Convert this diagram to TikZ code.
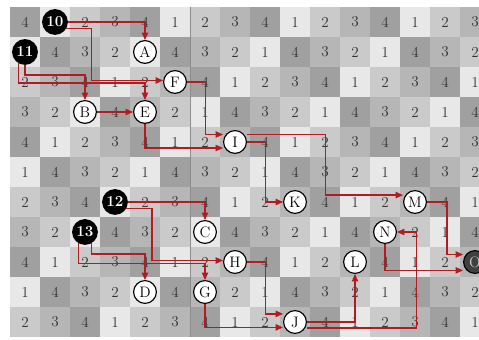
\documentclass[tikz,border=0pt]{standalone}
\usepackage{tikz}
\usetikzlibrary{arrows.meta}
\definecolor{route}{HTML}{B01C20}
\definecolor{cell1}{HTML}{E8E8E8}
\definecolor{cell2}{HTML}{CACACA}
\definecolor{cell3}{HTML}{B6B6B6}
\definecolor{cell4}{HTML}{A0A0A0}

\begin{document}
\begin{tikzpicture}[
    >={Triangle[length=7pt,width=6pt]},
    num/.style={font=\Large, text=black!80},
    root/.style={
        circle,
        fill=black,
        text=white,
        inner sep=0pt,
        minimum size=0.86cm,
        font=\Large\bfseries
    },
    letter/.style={
        circle,
        draw,
        fill=white,
        line width=1.1pt,
        inner sep=0pt,
        minimum size=0.76cm,
        font=\Large
    },
    goal/.style={letter, fill=black!75, text=black!20},
    link/.style={->, route, line width=1.3pt}
]

% Frame
\useasboundingbox (-0.333,0.233) rectangle (15.633,-11.067);
\clip (-0.333,0.233) rectangle (15.633,-11.067);

% Cells taken by nodes
\foreach \r/\c in {0/1,1/0,6/3,7/2,1/4,3/2,3/4,2/5,4/7,6/9,6/13,7/6,7/12,8/7,8/11,8/15,9/4,9/6,10/9}
    {\expandafter\xdef\csname skip-\r-\c\endcsname{1}}

% Board
\foreach \r in {0,...,10} {
    \foreach \c in {0,...,15} {
        \pgfmathtruncatemacro{\v}{isodd(\r) ? Mod(\r-1-\c,4)+1 : Mod(\c+3-\r,4)+1}
        \fill[cell\v] (\c,-\r) rectangle ++(1,-1);
        \ifcsname skip-\r-\c\endcsname\else
            \node[num] at (\c+0.5,-\r-0.5) {\v};
        \fi
    }
}
\draw[black!45, line width=0.6pt] (6,0) -- (6,-11);

% Nodes
\node[root] (n10) at (1.5,-0.5) {10};
\node[root] (n11) at (0.5,-1.5) {11};
\node[root] (n12) at (3.5,-6.5) {12};
\node[root] (n13) at (2.5,-7.5) {13};
\node[letter] (A) at (4.5,-1.5) {A};
\node[letter] (B) at (2.5,-3.5) {B};
\node[letter] (C) at (6.5,-7.5) {C};
\node[letter] (D) at (4.5,-9.5) {D};
\node[letter] (E) at (4.5,-3.5) {E};
\node[letter] (F) at (5.5,-2.5) {F};
\node[letter] (G) at (6.5,-9.5) {G};
\node[letter] (H) at (7.5,-8.5) {H};
\node[letter] (I) at (7.5,-4.5) {I};
\node[letter] (J) at (9.5,-10.5) {J};
\node[letter] (K) at (9.5,-6.5) {K};
\node[letter] (L) at (11.5,-8.5) {L};
\node[letter] (M) at (13.5,-6.5) {M};
\node[letter] (N) at (12.5,-7.5) {N};
\node[goal] (O) at (15.5,-8.5) {O};

% Upper group
\draw[link] (n10.east) -| (A.north);
\draw[link] (n10.-30) -- ++(0.84,0) |- ([yshift=0.05cm]F.west);
\draw[link] (n11.south) -- ++(0,-0.33) -| (B.north);
\draw[link] (n11.240) -- ++(0,-0.66) -| (E.north);
\draw[link] (B) -- (E);
\draw[link] (F.east) -- ++(0.61,0) |- ([yshift=0.25cm]I.west);
\draw[link] (E.south) |- ([yshift=-0.2cm]I.west);
\draw[link] ([yshift=0.25cm]I.east) -- ++(2.61,0) |- ([yshift=0.23cm]M.west);
\draw[link] (I.east) -- ++(0.61,0) |- (K.west);
\draw[link] (M.east) -- ++(0.67,0) |- ([yshift=0.25cm]O.west);

% Lower group
\draw[link] (n12.east) -| (C.north);
\draw[link] (n12.-30) -- ++(0.86,0) |- ([yshift=0.05cm]H.west);
\draw[link] (n13.-60) -- ++(0,-0.36) -| (D.north);
\draw[link] (n13.240) -- ++(0,-0.68) -| (G.north);
\draw[link] (H.east) -- ++(0.61,0) |- ([yshift=0.27cm]J.west);
\draw[link] (G.south) |- ([yshift=-0.18cm]J.west);
\draw[link] (J.east) -| (L.south);
\draw[link] ([yshift=-0.2cm]J.east) -- ++(3.64,0) |- (N.east);
\draw[link] (N.south) |- ([yshift=-0.28cm]O.west);

\end{tikzpicture}
\end{document}
